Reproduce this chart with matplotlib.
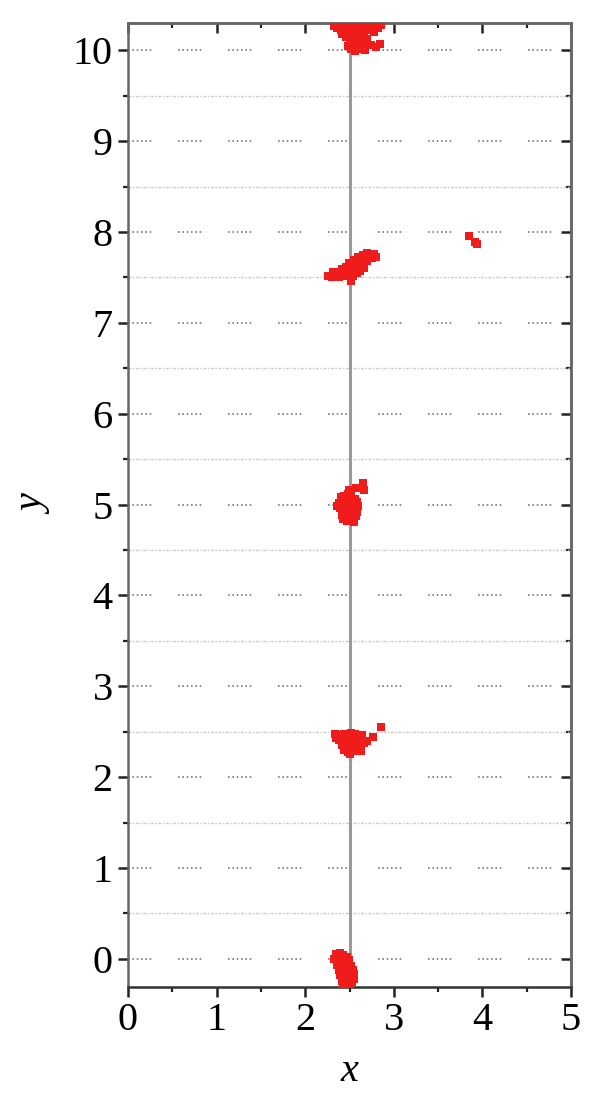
import matplotlib.pyplot as plt
from matplotlib.ticker import MultipleLocator

# cluster points (x, y)
top_x = [2.32, 2.36, 2.40, 2.44, 2.48, 2.52, 2.56, 2.60, 2.64, 2.70, 2.76, 2.82, 2.86,
         2.42, 2.46, 2.50, 2.54, 2.58, 2.62, 2.66, 2.72, 2.78,
         2.50, 2.54, 2.58, 2.62, 2.66, 2.70, 2.74, 2.80, 2.84,
         2.52, 2.56, 2.60, 2.64, 2.68, 2.54, 2.60, 2.48, 2.57, 2.63, 2.38, 2.46]
top_y = [10.27, 10.25, 10.22, 10.28, 10.24, 10.27, 10.22, 10.26, 10.28, 10.27, 10.29, 10.25, 10.28,
         10.18, 10.15, 10.19, 10.16, 10.13, 10.18, 10.20, 10.22, 10.20,
         10.10, 10.07, 10.05, 10.10, 10.08, 10.12, 10.06, 10.04, 10.07,
         10.02, 9.99, 10.01, 10.03, 10.00, 10.12, 10.16, 10.05, 10.20, 10.23, 10.30, 10.31]

mid_x = [2.26, 2.30, 2.33, 2.36, 2.38, 2.41, 2.44, 2.46, 2.48, 2.50, 2.52, 2.54, 2.56, 2.58,
         2.60, 2.62, 2.64, 2.66, 2.68, 2.70, 2.72, 2.75, 2.78, 2.80,
         2.52, 2.54, 2.58, 2.62, 2.66, 2.46, 2.42, 2.38, 2.49, 2.55, 2.60, 2.65, 2.70, 2.35, 2.31,
         3.85, 3.92, 3.94]
mid_y = [7.52, 7.51, 7.54, 7.50, 7.56, 7.53, 7.58, 7.52, 7.60, 7.56, 7.62, 7.58, 7.65, 7.61,
         7.68, 7.63, 7.70, 7.66, 7.72, 7.68, 7.74, 7.71, 7.76, 7.73,
         7.46, 7.52, 7.55, 7.57, 7.60, 7.62, 7.59, 7.50, 7.66, 7.69, 7.73, 7.75, 7.77, 7.55, 7.56,
         7.96, 7.89, 7.87]

five_x = [2.40, 2.44, 2.48, 2.52, 2.56, 2.38, 2.42, 2.46, 2.50, 2.54, 2.58, 2.60, 2.39, 2.43,
          2.47, 2.51, 2.55, 2.59, 2.41, 2.45, 2.49, 2.53, 2.57, 2.43, 2.47, 2.51, 2.55, 2.45,
          2.52, 2.36, 2.58, 2.65, 2.66, 2.49, 2.57]
five_y = [5.08, 5.10, 5.12, 5.09, 5.06, 5.02, 5.04, 5.00, 5.03, 5.01, 5.03, 4.98, 4.96, 4.94,
          4.97, 4.95, 4.93, 4.92, 4.89, 4.91, 4.88, 4.89, 4.87, 4.84, 4.82, 4.83, 4.81, 4.86,
          5.13, 4.99, 4.97, 5.24, 5.16, 5.16, 5.18]

two_x = [2.40, 2.44, 2.48, 2.52, 2.56, 2.60, 2.38, 2.42, 2.46, 2.50, 2.54, 2.58, 2.62, 2.66,
         2.41, 2.45, 2.49, 2.53, 2.57, 2.61, 2.44, 2.48, 2.52, 2.56, 2.50, 2.34, 2.35, 2.64,
         2.63, 2.77, 2.85, 2.70]
two_y = [2.46, 2.48, 2.45, 2.49, 2.47, 2.44, 2.41, 2.39, 2.42, 2.40, 2.42, 2.39, 2.41, 2.38,
         2.35, 2.33, 2.36, 2.34, 2.35, 2.33, 2.30, 2.28, 2.30, 2.29, 2.26, 2.47, 2.43, 2.46,
         2.29, 2.44, 2.55, 2.40]

zero_x = [2.35, 2.39, 2.43, 2.47, 2.33, 2.37, 2.41, 2.45, 2.49, 2.36, 2.40, 2.44, 2.48, 2.52,
          2.38, 2.42, 2.46, 2.50, 2.54, 2.39, 2.43, 2.47, 2.51, 2.55, 2.41, 2.45, 2.49, 2.53,
          2.43, 2.47, 2.51, 2.55]
zero_y = [0.05, 0.07, 0.04, 0.02, 0.00, -0.02, 0.01, -0.03, -0.01, -0.07, -0.05, -0.09, -0.06,
          -0.08, -0.12, -0.14, -0.11, -0.13, -0.12, -0.18, -0.20, -0.17, -0.19, -0.17, -0.24,
          -0.26, -0.23, -0.25, -0.30, -0.32, -0.29, -0.22]

xs = top_x + mid_x + five_x + two_x + zero_x
ys = top_y + mid_y + five_y + two_y + zero_y

x_line = 2.5
grid_major = list(range(0, 11))
grid_minor = [k + 0.5 for k in range(0, 10)]

plt.rcParams['font.family'] = ['Liberation Serif', 'DejaVu Serif']
fig = plt.figure(figsize=(6, 11), dpi=100)
ax = fig.add_axes([0.2133, 0.1027, 0.7384, 0.8763])

for g in grid_major:
    ax.axhline(g, color='#7a7a7a', lw=1.2,
               dashes=(1, 1.6, 1, 1.6, 1, 1.6, 1, 1.6, 1, 1.6, 1, 16.0), zorder=1)
for g in grid_minor:
    ax.axhline(g, color='#c8c8c8', lw=1.0, dashes=(2, 1.2, 1, 1.2), zorder=1)

ax.axvline(x_line, color='#999999', lw=2.2, zorder=2)
ax.scatter(xs, ys, s=26, marker='s', color='#f01c1c', linewidths=0, zorder=3)

ax.set_xlim(0, 5)
ax.set_ylim(-0.31, 10.30)
ax.xaxis.set_major_locator(MultipleLocator(1))
ax.xaxis.set_minor_locator(MultipleLocator(0.5))
ax.yaxis.set_major_locator(MultipleLocator(1))
ax.yaxis.set_minor_locator(MultipleLocator(0.5))
ax.tick_params(which='major', direction='out', length=7, width=1.8, color='#222222',
               labelsize=29, pad=4)
ax.tick_params(which='minor', direction='out', length=3.5, width=1.6, color='#222222')

for side in ['top', 'right']:
    sec = ax.secondary_xaxis('top') if side == 'top' else ax.secondary_yaxis('right')
    axis = sec.xaxis if side == 'top' else sec.yaxis
    axis.set_major_locator(MultipleLocator(1))
    axis.set_minor_locator(MultipleLocator(0.5))
    sec.tick_params(which='major', direction='in', length=7, width=1.8, color='#222222',
                    labelleft=False, labelright=False, labeltop=False, labelbottom=False)
    sec.tick_params(which='minor', direction='in', length=3.5, width=1.6, color='#222222')
    for sp in sec.spines.values():
        sp.set_color('#666666')
        sp.set_linewidth(1.8)

for sp in ax.spines.values():
    sp.set_color('#666666')
    sp.set_linewidth(1.8)
ax.spines['bottom'].set_color('#333333')

ax.set_xlabel('x', fontsize=29, style='italic', labelpad=10)
ax.set_ylabel('y', fontsize=29, style='italic', labelpad=14)

fig.savefig('out.png', dpi=100)
